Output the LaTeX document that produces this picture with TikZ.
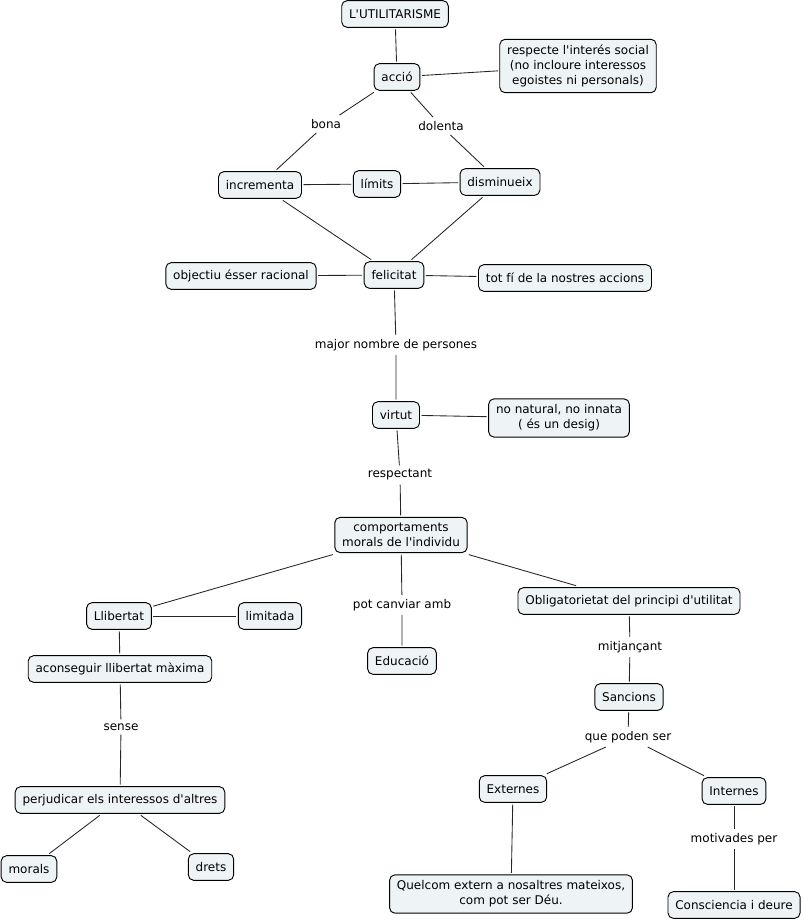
\documentclass[tikz,border=0pt]{standalone}
\usepackage{fontspec}
\setmainfont[Ligatures=TeXOff]{DejaVu Sans}
\usetikzlibrary{positioning}
\definecolor{boxfill}{RGB}{238,243,246}

\begin{document}
\begin{tikzpicture}[
    x=0.75pt, y=-0.75pt,
    box/.style={
        rectangle,
        rounded corners=4pt,
        draw=black,
        line width=0.7pt,
        fill=boxfill,
        minimum height=20pt,
        inner xsep=5.5pt,
        inner ysep=4.5pt,
        outer sep=1.5pt,
        align=center,
        font=\fontsize{9}{11}\selectfont
    },
    lbl/.style={
        inner sep=3pt,
        font=\fontsize{9}{11}\selectfont
    },
    link/.style={line width=0.65pt, draw=black!85}
]
\useasboundingbox (0,0) rectangle (803,920);

\node [box] (util) at (395,14) {L'UTILITARISME};
\node [box] (accio) at (397,77) {acció};
\node [box] (social) at (578,66) {respecte l'interés social\\(no incloure interessos\\egoistes ni personals)};
\node [lbl] (bona) at (326,124) {bona};
\node [lbl] (dolenta) at (441,126) {dolenta};

\node [box] (incr) at (260,185) {incrementa};
\node [box] (limits) at (377,184) {límits};
\node [box] (dism) at (500,182) {disminueix};

\node [box] (felic) at (394,275) {felicitat};
\node [box] (objectiu) at (241,276) {objectiu ésser racional};
\node [box] (tot) at (565,278) {tot fí de la nostres accions};
\node [lbl] (major) at (396,345) {major nombre de persones};

\node [box] (virtut) at (396,415) {virtut};
\node [box] (natural) at (559,418) {no natural, no innata\\( és un desig)};
\node [lbl] (respect) at (400,475) {respectant};

\node [box] (comport) at (401,535) {comportaments\\morals de l'individu};
\node [box] (llib) at (119,616) {Llibertat};
\node [box] (limitada) at (270,616) {limitada};
\node [lbl] (canviar) at (402,605) {pot canviar amb};
\node [box] (educ) at (402,661) {Educació};
\node [box] (oblig) at (629,601) {Obligatorietat del principi d'utilitat};

\node [box] (acons) at (120,669) {aconseguir llibertat màxima};
\node [lbl] (sense) at (121,727) {sense};
\node [box] (perj) at (120,800) {perjudicar els interessos d'altres};
\node [box] (morals) at (29,869) {morals};
\node [box] (drets) at (211,867) {drets};

\node [lbl] (mitj) at (630,647) {mitjançant};
\node [box] (sanc) at (629,697) {Sancions};
\node [lbl] (poden) at (628,737) {que poden ser};
\node [box] (ext) at (513,789) {Externes};
\node [box] (int) at (734,791) {Internes};
\node [lbl] (motiv) at (734,839) {motivades per};
\node [box] (quelcom) at (511,894) {Quelcom extern a nosaltres mateixos,\\com pot ser Déu.};
\node [box] (consc) at (734,905) {Consciencia i deure};

\draw[link] (util) -- (accio);
\draw[link] (accio) -- (social);
\draw[link] (accio) -- (bona) -- (incr);
\draw[link] (accio) -- (dolenta) -- (dism);
\draw[link] (incr) -- (limits);
\draw[link] (limits) -- (dism);
\draw[link] (incr) -- (felic);
\draw[link] (dism) -- (felic);
\draw[link] (objectiu) -- (felic);
\draw[link] (felic) -- (tot);
\draw[link] (felic) -- (major) -- (virtut);
\draw[link] (virtut) -- (natural);
\draw[link] (virtut) -- (respect) -- (comport);

\draw[link] (comport) -- (llib);
\draw[link] (comport) -- (canviar) -- (educ);
\draw[link] (comport) -- (oblig);
\draw[link] (llib) -- (limitada);
\draw[link] (llib) -- (acons);
\draw[link] (acons) -- (sense) -- (perj);
\draw[link] (perj) -- (morals);
\draw[link] (perj) -- (drets);

\draw[link] (oblig) -- (mitj) -- (sanc);
\draw[link] (sanc) -- (poden) -- (ext);
\draw[link] (poden) -- (int);
\draw[link] (ext) -- (quelcom);
\draw[link] (int) -- (motiv) -- (consc);
\end{tikzpicture}
\end{document}
